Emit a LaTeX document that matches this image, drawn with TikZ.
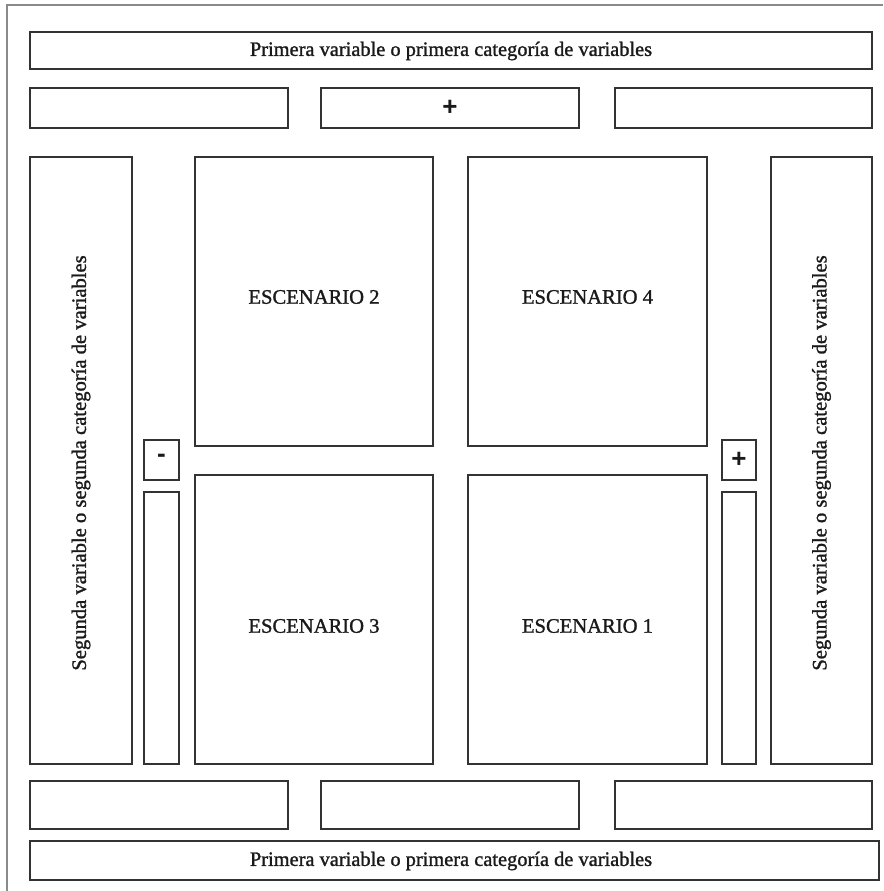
\documentclass[tikz,border=0pt]{standalone}
\usepackage{fontspec}
\setmainfont{Liberation Serif}
\newfontfamily\labelfont{Liberation Serif}[FakeBold=1.3]
\newfontfamily\signfont{Liberation Sans}
\definecolor{framegray}{HTML}{8A8A8A}
\definecolor{boxgray}{HTML}{333333}
\definecolor{txt}{HTML}{1A1A1A}
\begin{document}
\begin{tikzpicture}[x=1pt,y=-1pt,
  box/.style={draw=boxgray, line width=1.1pt, inner sep=0pt, rectangle},
  bartext/.style={text=txt, font=\labelfont\fontsize{20.4}{22}\selectfont},
  sidetext/.style={text=txt, font=\labelfont\fontsize{20.6}{22}\selectfont, rotate=90},
  scentext/.style={text=txt, font=\labelfont\fontsize{20.6}{22}\selectfont},
  signtext/.style={text=txt, font=\signfont\bfseries\fontsize{26}{28}\selectfont}]
\useasboundingbox (0,0) rectangle (883,891);
% outer frame (cropped)
\coordinate (fa) at (7,891);
\coordinate (fb) at (7,5);
\coordinate (fc) at (883,5);
\draw[framegray, line width=1.3pt] (fa) -- (fb) -- (fc);
% top bars
\node[box, minimum width=842pt, minimum height=37pt] (topbar) at (451,50.5) {};
\node[bartext] (toptext) at (451,51) {Primera variable o primera categoría de variables};
\node[box, minimum width=258pt, minimum height=40pt] (t1) at (159,108) {};
\node[box, minimum width=258pt, minimum height=40pt] (t2) at (450,108) {};
\node[signtext] (tplus) at (450,108) {+};
\node[box, minimum width=257pt, minimum height=40pt] (t3) at (743.5,108) {};
% left side
\node[box, minimum width=102pt, minimum height=607pt] (lt) at (81,460.5) {};
\node[sidetext] (ltext) at (81,463) {Segunda variable o segunda categoría de variables};
\node[box, minimum width=35pt, minimum height=40pt] (lminus) at (161.5,460) {};
\node[signtext] (lminustext) at (161.5,458) {-};
\node[box, minimum width=35pt, minimum height=272pt] (lthin) at (161.5,628) {};
% scenarios
\node[box, minimum width=238pt, minimum height=289pt] (s2) at (314,301.5) {};
\node[scentext] (s2t) at (314,297) {ESCENARIO 2};
\node[box, minimum width=238pt, minimum height=289pt] (s3) at (314,619.5) {};
\node[scentext] (s3t) at (314,626) {ESCENARIO 3};
\node[box, minimum width=239pt, minimum height=289pt] (s4) at (587.5,301.5) {};
\node[scentext] (s4t) at (587.5,297) {ESCENARIO 4};
\node[box, minimum width=239pt, minimum height=289pt] (s1) at (587.5,619.5) {};
\node[scentext] (s1t) at (587.5,626) {ESCENARIO 1};
% right side
\node[box, minimum width=34pt, minimum height=40pt] (rplus) at (739,460) {};
\node[signtext] (rplustext) at (739,460) {+};
\node[box, minimum width=34pt, minimum height=272pt] (rthin) at (739,628) {};
\node[box, minimum width=101pt, minimum height=607pt] (rt) at (821.5,460.5) {};
\node[sidetext] (rtext) at (821.5,463) {Segunda variable o segunda categoría de variables};
% bottom bars
\node[box, minimum width=258pt, minimum height=48pt] (b1) at (159,805) {};
\node[box, minimum width=258pt, minimum height=48pt] (b2) at (450,805) {};
\node[box, minimum width=257pt, minimum height=48pt] (b3) at (743.5,805) {};
\node[box, minimum width=849pt, minimum height=39pt] (botbar) at (454.5,860.5) {};
\node[bartext] (bottext) at (451,861) {Primera variable o primera categoría de variables};
\end{tikzpicture}
\end{document}
